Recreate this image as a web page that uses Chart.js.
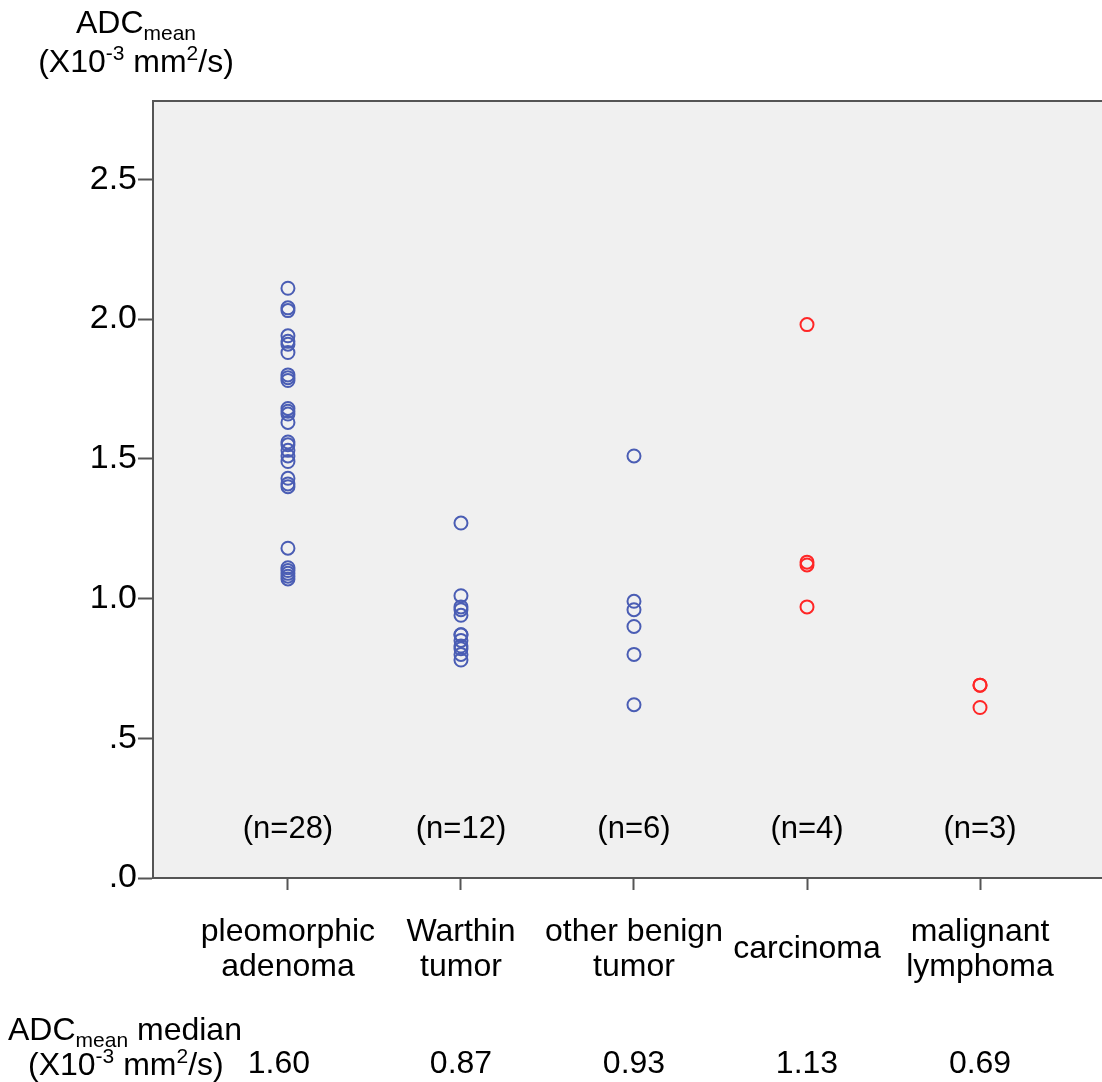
<!DOCTYPE html>
<html>
<head>
<meta charset="utf-8">
<script src="https://cdn.jsdelivr.net/npm/chart.js@4.4.1/dist/chart.umd.min.js"></script>
<style>
    html, body {margin: 0; padding: 0; background: #ffffff; overflow: hidden;}
    #wrap {width: 1102px; height: 1082px;}
</style>
</head>
<body>
<div id="wrap"><canvas id="adc-chart"></canvas></div>
<script>
// categories along the x axis (value 1..5)
const categories = [
    ['pleomorphic', 'adenoma'],
    ['Warthin', 'tumor'],
    ['other benign', 'tumor'],
    'carcinoma',
    ['malignant', 'lymphoma']
];
const groupCounts = ['(n=28)', '(n=12)', '(n=6)', '(n=4)', '(n=3)'];
const medianLabels = ['1.60', '0.87', '0.93', '1.13', '0.69'];
const yTicks = [0, 0.5, 1.0, 1.5, 2.0, 2.5];

// ADC mean values (x10^-3 mm2/s)
const pleomorphicAdenoma = [2.11, 2.04, 2.03, 1.94, 1.92, 1.91, 1.88, 1.80, 1.79, 1.78,
    1.68, 1.67, 1.66, 1.63, 1.56, 1.55, 1.53, 1.51, 1.49, 1.43, 1.41, 1.40,
    1.18, 1.11, 1.10, 1.09, 1.08, 1.07];
const warthinTumor = [1.27, 1.01, 0.97, 0.96, 0.94, 0.87, 0.87, 0.85, 0.83, 0.82, 0.80, 0.78];
const otherBenign = [1.51, 0.99, 0.96, 0.90, 0.80, 0.62];
const carcinoma = [1.98, 1.13, 1.12, 0.97];
const lymphoma = [0.69, 0.69, 0.61];

const benignGroups = [pleomorphicAdenoma, warthinTumor, otherBenign];
const malignantGroups = [carcinoma, lymphoma];

const FONT = '"Liberation Sans", Arial, Helvetica, sans-serif';
const BLUE = '#4a5db4';
const RED = '#ff2626';

function toPoints(groups, firstX) {
    const points = [];
    groups.forEach((values, index) => {
        values.forEach(value => points.push({x: firstX + index, y: value}));
    });
    return points;
}

// draws a line of text made of runs: [text, 'n' | 'sub' | 'sup']
function drawRuns(ctx, runs, x, baseline, align) {
    const sizes = {n: 32, sub: 21, sup: 21};
    const shifts = {n: 0, sub: 7, sup: -12};
    let total = 0;
    runs.forEach(([text, kind]) => {
        ctx.font = sizes[kind] + 'px ' + FONT;
        total += ctx.measureText(text).width;
    });
    let cursor = align === 'center' ? x - total / 2 : x;
    ctx.textAlign = 'left';
    ctx.textBaseline = 'alphabetic';
    runs.forEach(([text, kind]) => {
        ctx.font = sizes[kind] + 'px ' + FONT;
        ctx.fillText(text, cursor, baseline + shifts[kind]);
        cursor += ctx.measureText(text).width;
    });
}

const plotBackground = {
    id: 'plotBackground',
    beforeDraw(chart) {
        const {ctx, chartArea} = chart;
        ctx.save();
        ctx.fillStyle = '#f0f0f0';
        ctx.fillRect(chartArea.left, chartArea.top, chartArea.right - chartArea.left, chartArea.bottom - chartArea.top);
        ctx.strokeStyle = '#555555';
        ctx.lineWidth = 2;
        ctx.beginPath();
        ctx.moveTo(chartArea.left, chartArea.top);
        ctx.lineTo(chartArea.right, chartArea.top);
        ctx.stroke();
        ctx.restore();
    }
};

const extraTexts = {
    id: 'extraTexts',
    afterDraw(chart) {
        const ctx = chart.ctx;
        const xScale = chart.scales.x;
        ctx.save();
        ctx.fillStyle = '#000000';

        // axis title, top left
        drawRuns(ctx, [['ADC', 'n'], ['mean', 'sub']], 136, 33, 'center');
        drawRuns(ctx, [['(X10', 'n'], ['-3', 'sup'], [' mm', 'n'], ['2', 'sup'], ['/s)', 'n']], 136, 72, 'center');

        // group sizes inside the plot
        ctx.font = '31px ' + FONT;
        ctx.textAlign = 'center';
        ctx.textBaseline = 'middle';
        groupCounts.forEach((label, i) => {
            ctx.fillText(label, xScale.getPixelForValue(i + 1), 829);
        });

        // median row
        drawRuns(ctx, [['ADC', 'n'], ['mean', 'sub'], [' median', 'n']], 8, 1040, 'left');
        drawRuns(ctx, [['(X10', 'n'], ['-3', 'sup'], [' mm', 'n'], ['2', 'sup'], ['/s)', 'n']], 28, 1075, 'left');
        ctx.font = '32px ' + FONT;
        ctx.textAlign = 'center';
        ctx.textBaseline = 'alphabetic';
        medianLabels.forEach((label, i) => {
            ctx.fillText(label, xScale.getPixelForValue(i + 1) - (i === 0 ? 9 : 0), 1073);
        });
        ctx.restore();
    }
};

const context = document.getElementById('adc-chart').getContext('2d');
new Chart(context, {
    type: 'scatter',
    data: {
        datasets: [
            {
                label: 'benign',
                data: toPoints(benignGroups, 1),
                borderColor: BLUE,
                backgroundColor: 'rgba(0,0,0,0)',
                pointRadius: 6.5,
                pointBorderWidth: 2,
                pointHoverRadius: 6.5
            },
            {
                label: 'malignant',
                data: toPoints(malignantGroups, 4),
                borderColor: RED,
                backgroundColor: 'rgba(0,0,0,0)',
                pointRadius: 6.5,
                pointBorderWidth: 2,
                pointHoverRadius: 6.5
            }
        ]
    },
    options: {
        responsive: true,
        maintainAspectRatio: false,
        animation: false,
        layout: {autoPadding: false, padding: {top: 101, left: 0, right: 0, bottom: 0}},
        plugins: {
            legend: {display: false},
            tooltip: {enabled: false}
        },
        scales: {
            x: {
                type: 'linear',
                min: 0.22,
                max: 5.705,
                afterBuildTicks: scale => {
                    scale.ticks = categories.map((c, i) => ({value: i + 1}));
                },
                afterFit: scale => {
                    scale.height = 204;
                },
                grid: {
                    drawOnChartArea: false,
                    tickLength: 12,
                    tickWidth: 2,
                    tickColor: '#555555'
                },
                border: {display: true, color: '#555555', width: 2},
                ticks: {
                    autoSkip: false,
                    maxRotation: 0,
                    padding: 42,
                    crossAlign: 'center',
                    color: '#000000',
                    font: {family: FONT, size: 32, lineHeight: 1.1},
                    callback: (value) => categories[value - 1]
                }
            },
            y: {
                min: 0,
                max: 2.78,
                afterBuildTicks: scale => {
                    scale.ticks = yTicks.map(v => ({value: v}));
                },
                afterFit: scale => {
                    scale.width = 153;
                },
                grid: {
                    drawOnChartArea: false,
                    tickLength: 15,
                    tickWidth: 2,
                    tickColor: '#555555'
                },
                border: {display: true, color: '#555555', width: 2},
                ticks: {
                    padding: 1,
                    color: '#000000',
                    font: {family: FONT, size: 34},
                    callback: (value) => value.toFixed(1).replace(/^0/, '')
                }
            }
        }
    },
    plugins: [plotBackground, extraTexts]
});
</script>
</body>
</html>
